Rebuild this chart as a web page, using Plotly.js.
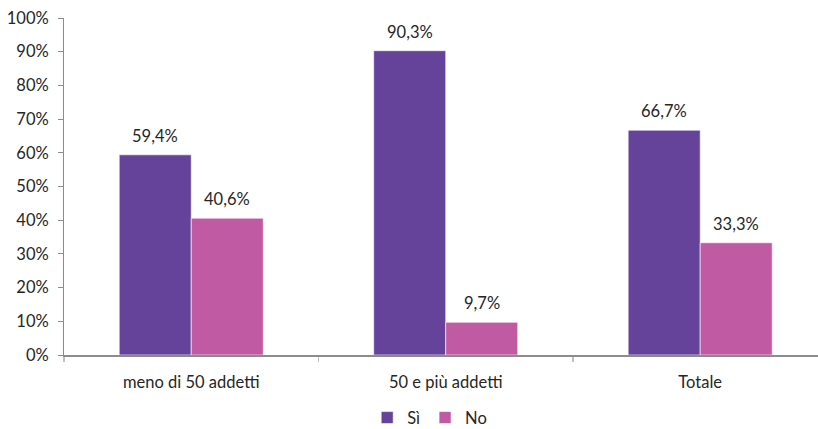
<!DOCTYPE html>
<html><head><meta charset="utf-8">
<script src="https://cdn.plot.ly/plotly-3.0.1.min.js"></script>
<style>html,body{margin:0;padding:0;background:#fff;overflow:hidden}</style>
</head><body><div id="chart" style="width:818px;height:429px"></div>
<script>
const categories = ["meno di 50 addetti", "50 e più addetti", "Totale"];
const siValues = [59.4, 90.3, 66.7];
const noValues = [40.6, 9.7, 33.3];
const yTickVals = [0,10,20,30,40,50,60,70,80,90,100];
const yTickText = yTickVals.map(v => v + "%");
const fmt = v => v.toFixed(1).replace(".", ",") + "%";
const font = "Lato, 'Open Sans', sans-serif";
const txtColor = "#262626";
const fs = 16.5;
const traces = [
  {type:"bar", name:"Sì", x:categories, y:siValues,
   marker:{color:"#65439B", line:{color:"#ffffff", width:0.6}}},
  {type:"bar", name:"No", x:categories, y:noValues,
   marker:{color:"#C05AA3", line:{color:"#ffffff", width:0.6}}}
];
const annotations = [];
[[siValues,-36],[noValues,36]].forEach(([vals,dx]) => {
  vals.forEach((v,i) => annotations.push({
    x:categories[i], y:v, xref:"x", yref:"y", text:fmt(v), showarrow:false,
    xshift:dx, yshift:7, yanchor:"bottom", font:{family:font,size:fs,color:txtColor}
  }));
});
const layout = {
  width:818, height:429,
  margin:{l:64, r:0, t:18, b:74, autoexpand:false},
  paper_bgcolor:"#fff", plot_bgcolor:"#fff",
  barmode:"group", bargap:0.434, bargroupgap:0,
  showlegend:true, annotations,
  legend:{orientation:"h", x:0.485, xanchor:"center", yref:"container", y:0.026, yanchor:"middle",
          font:{family:font,size:fs,color:txtColor}, itemwidth:30, traceorder:"normal"},
  xaxis:{type:"category", range:[-0.5, 2.463], showline:true, linecolor:"#8c8c8c", linewidth:1.5,
         ticks:"outside", tickson:"boundaries", ticklen:5, tickcolor:"#bfbfbf", tickwidth:1.5,
         tickfont:{family:font,size:fs,color:txtColor}, showgrid:false, ticklabelstandoff:12,
         automargin:false},
  yaxis:{range:[0,100], tickvals:yTickVals, ticktext:yTickText, showline:true,
         linecolor:"#8c8c8c", linewidth:1, ticks:"outside", ticklen:5, tickcolor:"#8c8c8c",
         tickfont:{family:font,size:fs,color:txtColor}, showgrid:false, zeroline:false,
         ticklabelstandoff:6, automargin:false}
};
Plotly.newPlot("chart", traces, layout, {displayModeBar:false, staticPlot:true});
</script></body></html>
